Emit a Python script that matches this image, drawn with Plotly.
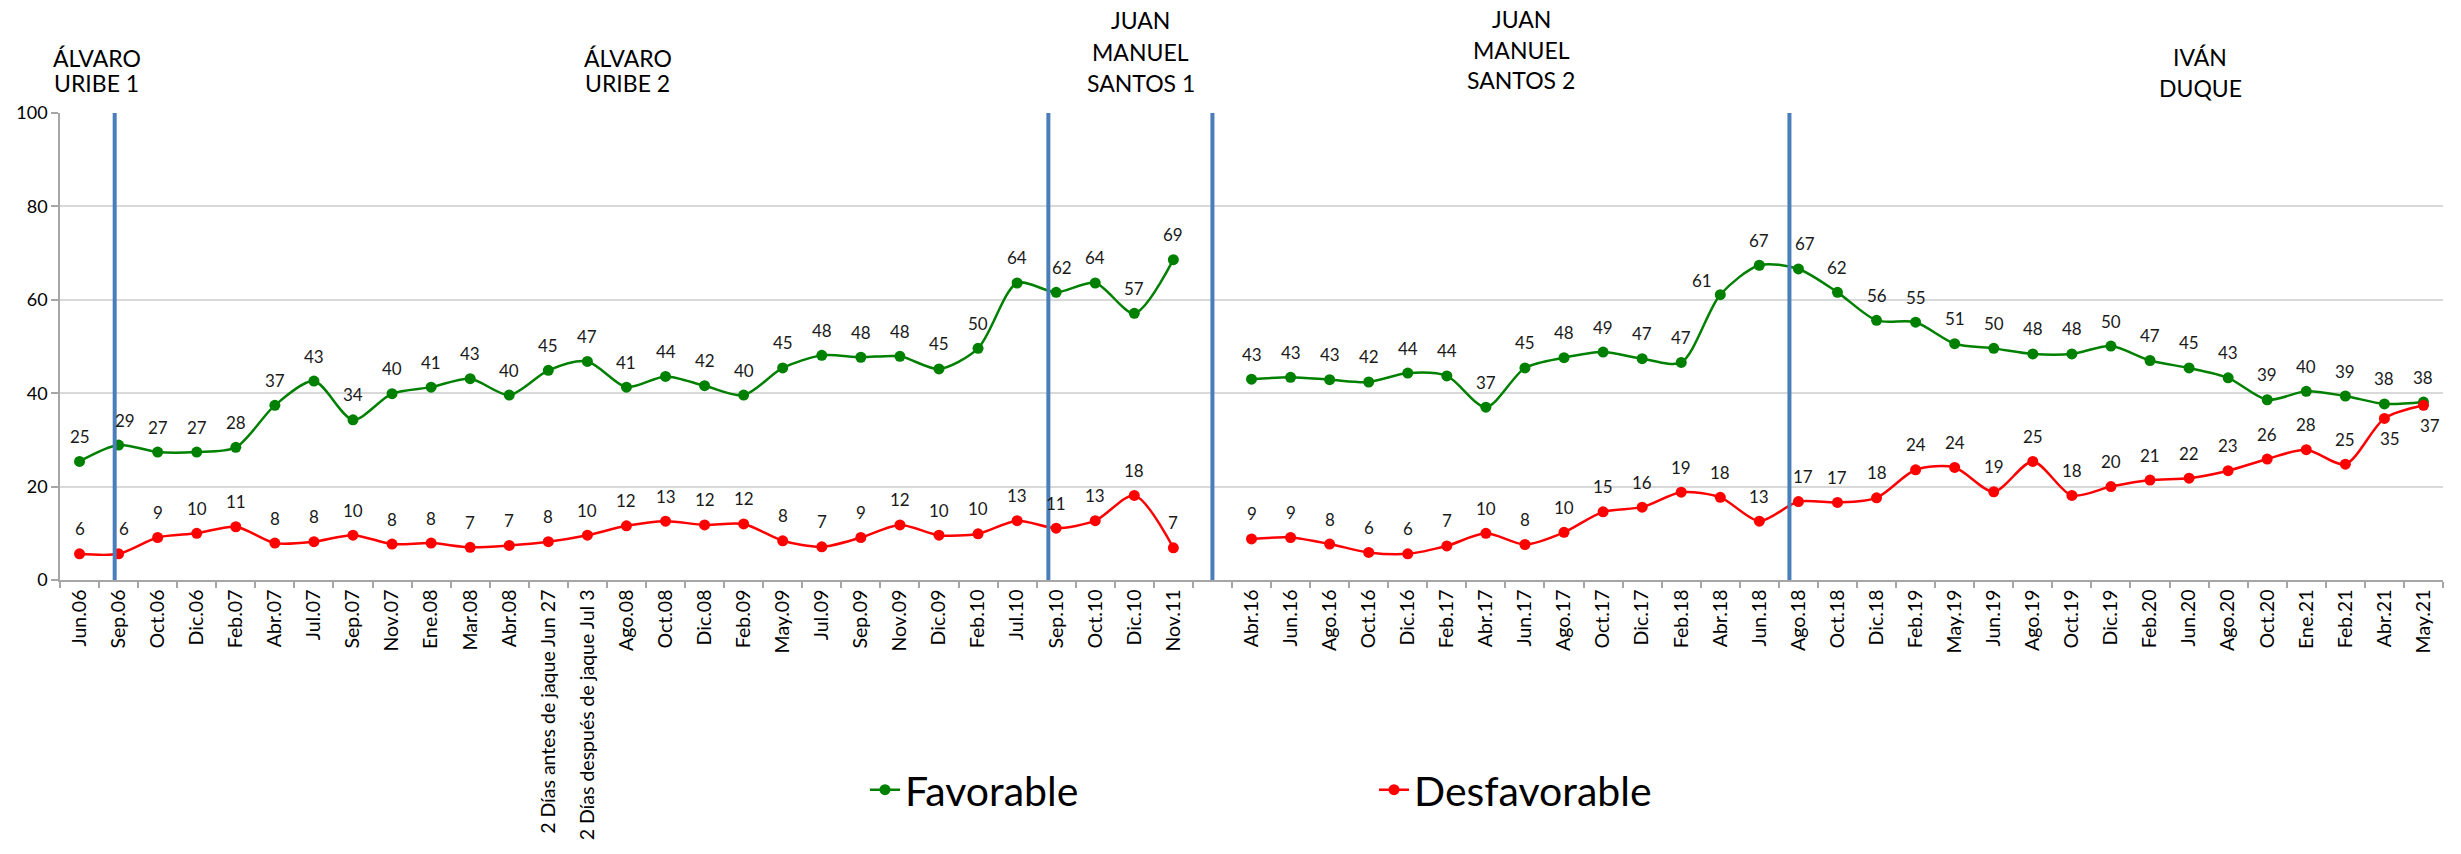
import plotly.graph_objects as go

# ---------------- data ----------------
cats_1 = ["Jun.06", "Sep.06", "Oct.06", "Dic.06", "Feb.07", "Abr.07", "Jul.07", "Sep.07",
          "Nov.07", "Ene.08", "Mar.08", "Abr.08", "2 Días antes de jaque Jun 27",
          "2 Días después de jaque Jul 3", "Ago.08", "Oct.08", "Dic.08", "Feb.09", "May.09",
          "Jul.09", "Sep.09", "Nov.09", "Dic.09", "Feb.10", "Jul.10", "Sep.10", "Oct.10",
          "Dic.10", "Nov.11"]
cats_2 = ["Abr.16", "Jun.16", "Ago.16", "Oct.16", "Dic.16", "Feb.17", "Abr.17", "Jun.17",
          "Ago.17", "Oct.17", "Dic.17", "Feb.18", "Abr.18", "Jun.18", "Ago.18", "Oct.18",
          "Dic.18", "Feb.19", "May.19", "Jun.19", "Ago.19", "Oct.19", "Dic.19", "Feb.20",
          "Jun.20", "Ago.20", "Oct.20", "Ene.21", "Feb.21", "Abr.21", "May.21"]

fav_1 = [25.4, 28.9, 27.4, 27.4, 28.4, 37.4, 42.6, 34.3, 39.9, 41.3, 43.1, 39.6, 44.9, 46.8,
         41.3, 43.6, 41.6, 39.6, 45.4, 48.1, 47.7, 47.9, 45.2, 49.6, 63.6, 61.6, 63.6, 57.1, 68.6]
desf_1 = [5.6, 5.6, 9.1, 10.0, 11.4, 7.9, 8.2, 9.6, 7.7, 7.9, 7.0, 7.4, 8.2, 9.6, 11.6, 12.6,
          11.8, 12.0, 8.4, 7.1, 9.1, 11.8, 9.6, 9.9, 12.7, 11.1, 12.7, 18.1, 6.9]
fav_2 = [43.0, 43.4, 42.9, 42.4, 44.3, 43.7, 37.0, 45.4, 47.6, 48.8, 47.4, 46.6, 61.1, 67.4,
         66.6, 61.6, 55.6, 55.2, 50.6, 49.6, 48.4, 48.4, 50.1, 47.0, 45.4, 43.3, 38.6, 40.4,
         39.4, 37.7, 38.1]
desf_2 = [8.8, 9.1, 7.7, 5.9, 5.6, 7.3, 10.0, 7.6, 10.2, 14.6, 15.6, 18.8, 17.7, 12.6, 16.8,
          16.6, 17.6, 23.6, 24.1, 18.9, 25.4, 18.1, 20.0, 21.4, 21.8, 23.4, 25.9, 27.9, 24.8,
          34.6, 37.4]

period_titles = [["ÁLVARO", "URIBE 1"], ["ÁLVARO", "URIBE 2"],
                 ["JUAN", "MANUEL", "SANTOS 1"], ["JUAN", "MANUEL", "SANTOS 2"],
                 ["IVÁN", "DUQUE"]]

# ---------------- build ----------------
GAP = " "
cats = cats_1 + [GAP] + cats_2
fav = fav_1 + [None] + fav_2
desf = desf_1 + [None] + desf_2
n = len(cats)

W, H = 2461, 854
PLOT_LEFT, PLOT_RIGHT, PLOT_TOP, PLOT_BOTTOM = 60, 2443, 113, 580
ML, MR, MT, MB = PLOT_LEFT, W - PLOT_RIGHT, PLOT_TOP, H - PLOT_BOTTOM
PW = PLOT_RIGHT - PLOT_LEFT
PH = PLOT_BOTTOM - PLOT_TOP

FONT = "Lato"
GREEN = "#008000"
RED = "#FF0000"
BLUE = "#4A7EBB"


def py_paper(px):
    return (PLOT_BOTTOM - px) / PH


def px_paper(px):
    return (px - PLOT_LEFT) / PW


def idx_paper(i):
    return (i + 0.5) / n


fig = go.Figure()
fig.add_trace(go.Scatter(
    x=cats, y=fav, name="Favorable", mode="lines+markers", connectgaps=False,
    line=dict(color=GREEN, width=2.5, shape="spline", smoothing=0.8),
    marker=dict(color=GREEN, size=11), legend="legend", hoverinfo="skip"))
fig.add_trace(go.Scatter(
    x=cats, y=desf, name="Desfavorable", mode="lines+markers", connectgaps=False,
    line=dict(color=RED, width=2.5, shape="spline", smoothing=0.8),
    marker=dict(color=RED, size=11), legend="legend2", hoverinfo="skip"))

# data labels
shifts = {
    ("fav", "Sep.06"): (6, 25), ("fav", "Sep.10"): (6, 25), ("fav", "Ago.18"): (7, 25),
    ("fav", "Abr.18"): (-18, 14),
    ("desf", "Sep.06"): (5, 25), ("desf", "Ago.18"): (5, 25),
    ("desf", "Abr.21"): (6, -20), ("desf", "May.21"): (7, -20),
}
annotations = []
for key, series in (("fav", fav), ("desf", desf)):
    for c, v in zip(cats, series):
        if v is None:
            continue
        xs, ys = shifts.get((key, c), (0, 25))
        annotations.append(dict(
            x=c, y=v, xref="x", yref="y", text=f"{v:.0f}", showarrow=False,
            xshift=xs, yshift=ys, font=dict(family=FONT, size=17, color="#1a1a1a")))

# period titles
title_pos = [(0.44, [58, 83]), (14.03, [58, 83]), (27.16, [20, 52, 83]),
             (36.9, [19, 50, 80]), (54.28, [57, 88])]
for lines, (ix, ys) in zip(period_titles, title_pos):
    for txt, ypx in zip(lines, ys):
        annotations.append(dict(
            x=idx_paper(ix), y=py_paper(ypx), xref="paper", yref="paper", text=txt,
            showarrow=False, xanchor="center", yanchor="middle", borderpad=0,
            font=dict(family=FONT, size=23, color="black")))

# vertical period separators
shapes = []
for ix in (0.9, 24.8, 29, 43.77):
    shapes.append(dict(type="line", xref="x", yref="y", x0=ix, x1=ix, y0=0, y1=100,
                       line=dict(color=BLUE, width=4), layer="above"))

fig.update_layout(
    width=W, height=H,
    margin=dict(l=ML, r=MR, t=MT, b=MB, autoexpand=False),
    paper_bgcolor="white", plot_bgcolor="white",
    template="none",
    annotations=annotations, shapes=shapes,
    showlegend=True,
    legend=dict(x=px_paper(865), y=py_paper(790), xanchor="left", yanchor="middle",
                orientation="h", bgcolor="rgba(0,0,0,0)",
                font=dict(family=FONT, size=41, color="black")),
    legend2=dict(x=px_paper(1374), y=py_paper(790), xanchor="left", yanchor="middle",
                 orientation="h", bgcolor="rgba(0,0,0,0)",
                 font=dict(family=FONT, size=41, color="black")),
    xaxis=dict(type="category", categoryorder="array", categoryarray=cats,
               range=[-0.5, n - 0.5], tickson="boundaries", ticks="outside", ticklen=6,
               tickcolor="#A6A6A6", tickwidth=1.5, showline=True, linecolor="#A6A6A6",
               linewidth=1.5, showgrid=False, zeroline=False, tickangle=-90,
               automargin=False,
               tickfont=dict(family=FONT, size=19.5, color="black")),
    yaxis=dict(range=[0, 100], tickmode="array", tickvals=[0, 20, 40, 60, 80, 100],
               ticks="outside", ticklen=7, tickcolor="#A6A6A6", tickwidth=1.5,
               showline=True, linecolor="#A6A6A6", linewidth=1.5,
               showgrid=True, gridcolor="#D9D9D9", gridwidth=1.5, zeroline=False,
               automargin=False,
               tickfont=dict(family=FONT, size=18, color="black")),
)

# remove the default 8px body margin so the figure fills the window exactly
fig.write_html("out.html", config={"displayModeBar": False},
               post_script="document.body.style.margin='0';document.body.style.overflow='hidden';")
